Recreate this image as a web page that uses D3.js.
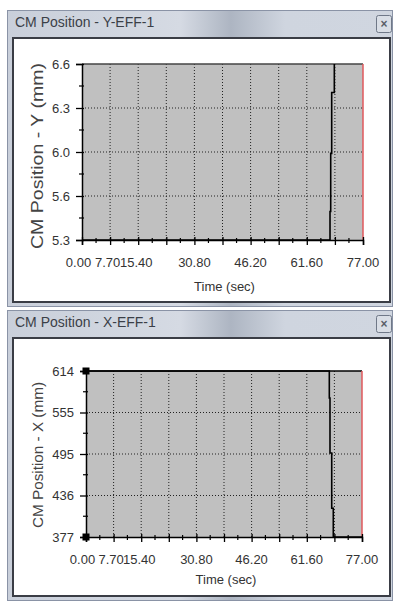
<!DOCTYPE html>
<html>
<head>
<meta charset="utf-8">
<script src="https://cdn.jsdelivr.net/npm/d3@7"></script>
<style>
  body { margin: 0; background: #fff; }
  svg { display: block; font-family: "Liberation Sans", Arial, sans-serif; }
</style>
</head>
<body>
<div id="chart-area"></div>
<script>
// data
var timeTicks = [0, 7.7, 15.4, 23.1, 30.8, 38.5, 46.2, 53.9, 61.6, 69.3, 77]
var timeLabels = ["0.00", "7.70", "15.40", "", "30.80", "", "46.20", "", "61.60", "", "77.00"]

var yEffTicks = [5.3, 5.625, 5.95, 6.275, 6.6]
var yEffLabels = ["5.3", "5.6", "6.0", "6.3", "6.6"]
var yEffTime = [0, 67.96, 67.96, 68.15, 68.15, 68.42, 68.42, 69.14, 69.14]
var yEffValues = [5.3, 5.3, 5.51, 5.51, 5.94, 5.94, 6.39, 6.39, 6.6]

var xEffTicks = [377, 436.25, 495.5, 554.75, 614]
var xEffLabels = ["377", "436", "495", "555", "614"]
var xEffTime = [0, 67.88, 67.88, 68.07, 68.07, 68.55, 68.55, 68.99, 68.99, 77]
var xEffValues = [614, 614, 575.5, 575.5, 497, 497, 418, 418, 377, 377]
var xEffMarkTime = [0, 0]
var xEffMarkValues = [614, 377]

var W = 393, H = 601

var svg = d3.select("#chart-area")
	.append("svg")
		.attr("width", W)
		.attr("height", H)

var defs = svg.append("defs")
var grad = defs.append("linearGradient").attr("id", "titlebar")
grad.append("stop").attr("offset", "0%").attr("stop-color", "#c9cfda")
grad.append("stop").attr("offset", "45%").attr("stop-color", "#d5dae3")
grad.append("stop").attr("offset", "58%").attr("stop-color", "#adb5c2")
grad.append("stop").attr("offset", "72%").attr("stop-color", "#cfd5df")
grad.append("stop").attr("offset", "100%").attr("stop-color", "#d0d6e0")

// window chrome
function drawWindow(top, bottom, title) {
	var w = svg.append("g")
	w.append("rect")
		.attr("x", 7).attr("y", top)
		.attr("width", W - 7).attr("height", bottom - top)
		.attr("fill", "url(#titlebar)")
	w.append("rect")
		.attr("x", 7.5).attr("y", top + 0.5)
		.attr("width", W - 8).attr("height", bottom - top - 1)
		.attr("fill", "none").attr("stroke", "#8a93a6")
	// inner client area
	w.append("rect")
		.attr("x", 13).attr("y", top + 28)
		.attr("width", 377).attr("height", bottom - top - 33)
		.attr("fill", "#fff")
		.attr("stroke", "#3a3d45").attr("stroke-width", 2)
	w.append("text")
		.attr("x", 15).attr("y", top + 17)
		.attr("font-size", "14px")
		.attr("fill", "#3b3f47")
		.text(title)
	// close button
	var cb = w.append("g").attr("transform", "translate(376.5," + (top + 5.5) + ")")
	cb.append("rect")
		.attr("width", 15).attr("height", 17).attr("rx", 2)
		.attr("fill", "#d9dee6").attr("stroke", "#6f7888")
	cb.append("text")
		.attr("x", 7.5).attr("y", 12.5)
		.attr("text-anchor", "middle")
		.attr("font-size", "12px")
		.attr("font-weight", "bold")
		.attr("fill", "#5a5f69")
		.text("×")
}

drawWindow(10, 307, "CM Position - Y-EFF-1")
drawWindow(310, 601, "CM Position - X-EFF-1")

function drawPanel(p) {
	var x = d3.scaleLinear().domain([0, 77]).range([p.left, p.right])
	var y = d3.scaleLinear().domain(p.yDomain).range([p.bottom, p.top])
	var g = svg.append("g")

	g.append("rect")
		.attr("x", p.left).attr("y", p.top)
		.attr("width", p.right - p.left).attr("height", p.bottom - p.top)
		.attr("fill", "#c0c0c0")

	// dotted grid
	g.selectAll(".vgrid").data(timeTicks.slice(1, -1)).enter()
		.append("line")
		.attr("x1", d => x(d)).attr("x2", d => x(d))
		.attr("y1", p.top).attr("y2", p.bottom)
		.attr("stroke", "#222").attr("stroke-dasharray", "1,2")
	g.selectAll(".hgrid").data(p.yTicks.slice(1, -1)).enter()
		.append("line")
		.attr("x1", p.left).attr("x2", p.right)
		.attr("y1", d => y(d)).attr("y2", d => y(d))
		.attr("stroke", "#222").attr("stroke-dasharray", "1,2")

	// borders
	g.append("line").attr("x1", p.left).attr("x2", p.right)
		.attr("y1", p.top).attr("y2", p.top)
		.attr("stroke", p.topColor).attr("stroke-width", 1.5)
	g.append("line").attr("x1", p.right).attr("x2", p.right)
		.attr("y1", p.top).attr("y2", p.bottom)
		.attr("stroke", "#e0585c").attr("stroke-width", 1.5)

	// x axis
	var xAxisCall = d3.axisBottom(x)
		.tickValues(timeTicks)
		.tickSize(5)
		.tickFormat("")
	var xa = g.append("g")
		.attr("transform", "translate(0," + p.bottom + ")")
		.call(xAxisCall)
	xa.select(".domain").attr("stroke", "#000").attr("stroke-width", 1.5)
	xa.selectAll(".tick line").attr("y1", -3).attr("stroke", "#000").attr("stroke-width", 1.3)
	var xMinor = d3.range(timeTicks.length - 1).map(i => (timeTicks[i] + timeTicks[i + 1]) / 2)
	g.selectAll(".xminor").data(xMinor).enter()
		.append("line")
		.attr("x1", d => x(d)).attr("x2", d => x(d))
		.attr("y1", p.bottom - 2).attr("y2", p.bottom + 3)
		.attr("stroke", "#000").attr("stroke-width", 1.2)

	// x labels, nudged the way the original squeezes them
	var nudge = { "0.00": -3.5, "7.70": -2.5, "15.40": -2 }
	g.selectAll(".xlab").data(timeTicks).enter()
		.append("text")
		.attr("x", (d, i) => x(d) + (nudge[timeLabels[i]] || 0))
		.attr("y", p.bottom + 27)
		.attr("text-anchor", "middle")
		.attr("font-size", "13px")
		.attr("fill", "#333")
		.text((d, i) => timeLabels[i])

	g.append("text")
		.attr("x", (p.left + p.right) / 2 + 2)
		.attr("y", p.bottom + p.titleDy)
		.attr("text-anchor", "middle")
		.attr("font-size", "13px")
		.attr("fill", "#333")
		.text("Time (sec)")

	// y axis
	var yAxisCall = d3.axisLeft(y)
		.tickValues(p.yTicks)
		.tickSize(6)
		.tickFormat((d, i) => p.yLabels[i])
	var ya = g.append("g")
		.attr("transform", "translate(" + p.left + ",0)")
		.call(yAxisCall)
	ya.select(".domain").attr("stroke", "#000").attr("stroke-width", 1.5)
	ya.selectAll(".tick line").attr("x1", 2).attr("stroke", "#000").attr("stroke-width", 1.3)
	ya.selectAll(".tick text")
		.attr("x", -12)
		.attr("font-size", "13px")
		.attr("font-family", "'Liberation Sans', Arial, sans-serif")
		.attr("fill", "#333")
	var yMinor = d3.range(p.yTicks.length - 1).map(i => (p.yTicks[i] + p.yTicks[i + 1]) / 2)
	g.selectAll(".yminor").data(yMinor).enter()
		.append("line")
		.attr("x1", p.left - 3).attr("x2", p.left + 2)
		.attr("y1", d => y(d)).attr("y2", d => y(d))
		.attr("stroke", "#000").attr("stroke-width", 1.2)

	g.append("text")
		.attr("transform", "translate(" + p.labelX + "," + ((p.top + p.bottom) / 2 + p.labelDy) + ") rotate(-90)")
		.attr("text-anchor", "middle")
		.attr("font-size", p.labelSize)
		.attr("textLength", p.labelLen)
		.attr("lengthAdjust", "spacingAndGlyphs")
		.attr("fill", "#444")
		.text(p.label)

	// series
	var pts = p.time.map((t, i) => [t, p.values[i]])
	var line = d3.line().x(d => x(d[0])).y(d => y(d[1]))
	g.append("path")
		.attr("d", line(pts))
		.attr("fill", "none")
		.attr("stroke", "#000")
		.attr("stroke-width", 1.6)

	if (p.markTime) {
		g.selectAll(".mark").data(p.markTime).enter()
			.append("rect")
			.attr("x", d => x(d) - 3.5)
			.attr("y", (d, i) => y(p.markValues[i]) - 3.5)
			.attr("width", 7).attr("height", 7)
			.attr("fill", "#000")
	}
}

drawPanel({
	left: 82, right: 363, top: 64, bottom: 240,
	yDomain: [5.3, 6.6], yTicks: yEffTicks, yLabels: yEffLabels,
	time: yEffTime, values: yEffValues,
	topColor: "#444", titleDy: 51,
	label: "CM Position - Y (mm)", labelX: 43, labelDy: 4, labelLen: 186, labelSize: "16px"
})

drawPanel({
	left: 86, right: 362, top: 371, bottom: 537,
	yDomain: [377, 614], yTicks: xEffTicks, yLabels: xEffLabels,
	time: xEffTime, values: xEffValues,
	markTime: xEffMarkTime, markValues: xEffMarkValues,
	topColor: "#000", titleDy: 47,
	label: "CM Position - X (mm)", labelX: 43, labelDy: 1, labelLen: 146, labelSize: "15px"
})
</script>
</body>
</html>
